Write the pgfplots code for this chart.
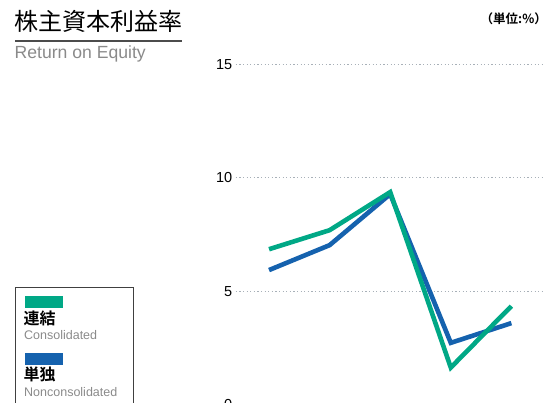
\documentclass[border=0pt]{standalone}
\usepackage{pgfplots}
\pgfplotsset{compat=1.18}
\usepackage{fontspec}
\setmainfont{Liberation Sans}
\newfontfamily\cjk{Noto Sans CJK JP}
\newfontfamily\cjkb{Noto Sans CJK JP Bold}
\definecolor{cgreen}{HTML}{00A886}
\definecolor{cblue}{HTML}{1562AE}
\definecolor{cgrid}{HTML}{A8B0B8}
\definecolor{ctext}{HTML}{8A8A8A}
\begin{document}
\begin{tikzpicture}[x=1pt,y=1pt]
\useasboundingbox (0,0) rectangle (550,403);
\clip (0,0) rectangle (550,403);
\begin{axis}[
  at={(235.7pt,-1.5pt)}, anchor=south west,
  scale only axis, width=309pt, height=340pt,
  xmin=0.45, xmax=5.55, ymin=0, ymax=15,
  axis line style={draw=none},
  xtick=\empty,
  ytick={0,5,10,15},
  ymajorgrids,
  major grid style={cgrid, line width=1pt, dash pattern=on 1.2pt off 2.4pt},
  yticklabel style={font=\fontsize{14.5}{16}\selectfont},
  /pgf/number format/assume math mode=true,
  tick style={draw=none},
  major tick length=0pt,
  clip=false,
]
\addplot[cblue, line width=4.6pt, line join=miter] coordinates {(1,5.93) (2,7.03) (3,9.28) (4,2.72) (5,3.59)};
\addplot[cgreen, line width=4.6pt, line join=miter] coordinates {(1,6.85) (2,7.69) (3,9.37) (4,1.63) (5,4.34)};
\end{axis}
% title
\node[anchor=west, inner sep=0pt, font=\cjk\fontsize{24}{26}\selectfont] at (14,382) {株主資本利益率};
\draw[black!70, line width=1.2pt] (15,362) -- (182,362);
\node[anchor=base west, inner sep=0pt, text=ctext, font=\fontsize{17.6}{19}\selectfont] at (14.5,344.5) {Return on Equity};
\node[anchor=east, inner sep=0pt, font=\cjkb\fontsize{12.5}{14}\selectfont] at (547,384) {（単位:\%）};
% legend
\draw[black!75, line width=1pt] (15.7,115.7) rectangle (133.3,-5);
\fill[cgreen] (25,107) rectangle (62.7,95.3);
\node[anchor=base west, inner sep=0pt, font=\cjkb\fontsize{16}{17}\selectfont] at (23.5,78.5) {連結};
\node[anchor=base west, inner sep=0pt, text=ctext, font=\fontsize{12.5}{14}\selectfont] at (24,63.7) {Consolidated};
\fill[cblue] (25,50.3) rectangle (62.7,38.3);
\node[anchor=base west, inner sep=0pt, font=\cjkb\fontsize{16}{17}\selectfont] at (23.5,22) {単独};
\node[anchor=base west, inner sep=0pt, text=ctext, font=\fontsize{12.5}{14}\selectfont] at (24,6.3) {Nonconsolidated};
\end{tikzpicture}
\end{document}
